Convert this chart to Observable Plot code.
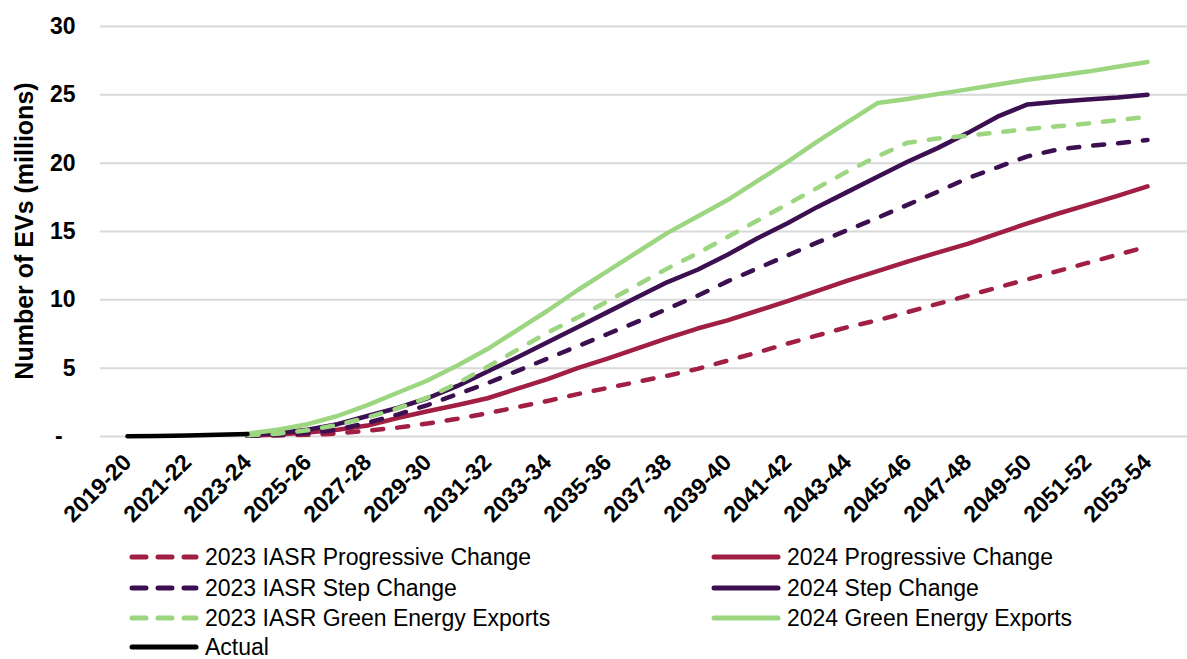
<!DOCTYPE html>
<html><head><meta charset="utf-8">
<script src="https://cdn.jsdelivr.net/npm/d3@7"></script>
<script src="https://cdn.jsdelivr.net/npm/@observablehq/plot@0.6"></script>
<style>
body{margin:0;background:#fff;font-family:"Liberation Sans",Arial,sans-serif;}
#chart{position:relative;width:1187px;height:659px;overflow:hidden;}
#ytitle{position:absolute;left:24px;top:231px;transform:translate(-50%,-50%) rotate(-90deg);font-size:25px;font-weight:bold;white-space:nowrap;color:#000;}
.item{position:absolute;display:flex;align-items:center;font-size:23px;color:#000;white-space:nowrap;height:22px;line-height:22px;}
.item svg{margin-right:5px;}
</style></head><body>
<div id="chart"><div id="ytitle">Number of EVs (millions)</div></div>
<script>
const categories = ["2019-20","2020-21","2021-22","2022-23","2023-24","2024-25","2025-26","2026-27","2027-28","2028-29","2029-30","2030-31","2031-32","2032-33","2033-34","2034-35","2035-36","2036-37","2037-38","2038-39","2039-40","2040-41","2041-42","2042-43","2043-44","2044-45","2045-46","2046-47","2047-48","2048-49","2049-50","2050-51","2051-52","2052-53","2053-54"];
const xTickLabels = ["2019-20","2021-22","2023-24","2025-26","2027-28","2029-30","2031-32","2033-34","2035-36","2037-38","2039-40","2041-42","2043-44","2045-46","2047-48","2049-50","2051-52","2053-54"];
const yTicks = [0,5,10,15,20,25,30];

// values start at 2019-20 (actual) or 2023-24 (projections)
const actual = [0.02,0.04,0.07,0.12,0.18];
const prog2023 = [0.05,0.08,0.12,0.22,0.42,0.65,0.95,1.3,1.7,2.15,2.6,3.1,3.55,4.0,4.45,4.95,5.55,6.15,6.8,7.4,8.0,8.5,9.1,9.7,10.3,10.9,11.5,12.1,12.7,13.3,13.9];
const prog2024 = [0.05,0.15,0.3,0.5,0.8,1.35,1.85,2.3,2.8,3.5,4.2,5.0,5.7,6.45,7.2,7.9,8.5,9.2,9.9,10.65,11.4,12.1,12.8,13.45,14.1,14.85,15.6,16.3,16.95,17.6,18.3];
const step2023 = [0.05,0.12,0.25,0.5,1.0,1.6,2.3,3.1,3.9,4.8,5.7,6.6,7.5,8.4,9.35,10.3,11.35,12.3,13.25,14.2,15.1,16.0,16.95,17.9,18.9,19.7,20.5,21.0,21.25,21.45,21.7];
const step2024 = [0.1,0.25,0.5,0.9,1.5,2.1,2.8,3.7,4.75,5.8,6.9,8.0,9.1,10.2,11.3,12.2,13.3,14.5,15.6,16.8,17.9,19.0,20.1,21.1,22.2,23.4,24.3,24.5,24.65,24.8,25.0];
const gee2023 = [0.1,0.2,0.45,0.85,1.4,2.05,2.85,3.9,5.1,6.35,7.6,8.7,9.9,11.1,12.3,13.4,14.6,15.8,17.0,18.2,19.4,20.5,21.5,21.8,22.0,22.25,22.5,22.7,22.9,23.15,23.4];
const gee2024 = [0.2,0.5,0.9,1.5,2.3,3.2,4.1,5.2,6.4,7.8,9.2,10.7,12.1,13.5,14.9,16.1,17.3,18.7,20.1,21.6,23.0,24.4,24.7,25.05,25.4,25.75,26.1,26.4,26.7,27.05,27.4];

const RED = "#A01F43", PURPLE = "#3C0F50", GREEN = "#9CD680", BLACK = "#000000";
const series = [
  {name:"2023 IASR Progressive Change", values:prog2023, start:4, color:RED, dash:true},
  {name:"2024 Progressive Change", values:prog2024, start:4, color:RED, dash:false},
  {name:"2023 IASR Step Change", values:step2023, start:4, color:PURPLE, dash:true},
  {name:"2024 Step Change", values:step2024, start:4, color:PURPLE, dash:false},
  {name:"2023 IASR Green Energy Exports", values:gee2023, start:4, color:GREEN, dash:true},
  {name:"2024 Green Energy Exports", values:gee2024, start:4, color:GREEN, dash:false},
  {name:"Actual", values:actual, start:0, color:BLACK, dash:false}
];
const DASH = "11,14";

const lineMarks = series.map(s => Plot.line(
  s.values.map((v,i) => ({cat: categories[s.start+i], value: v})),
  {x:"cat", y:"value", stroke:s.color, strokeWidth:4.5, strokeLinecap:"round", strokeLinejoin:"round",
   strokeDasharray: s.dash ? DASH : null}
));

const plot = Plot.plot({
  width:1187, height:540,
  marginTop:26, marginLeft:100, marginRight:0, marginBottom:104,
  style:{fontFamily:'"Liberation Sans", Arial, sans-serif', background:"#fff", color:"#000", overflow:"visible"},
  x:{type:"point", domain:categories, range:[115,1159], padding:0},
  y:{domain:[0,30]},
  marks:[
    Plot.ruleY(yTicks, {stroke:"#D9D9D9", strokeWidth:2}),
    Plot.axisY({ticks:yTicks, tickSize:0, tickPadding:25, fontSize:23, fontWeight:"bold",
      tickFormat: d => d === 0 ? "-\u2007" : String(d), label:null}),
    Plot.axisX({ticks:xTickLabels, tickSize:0, tickPadding:22, tickRotate:-45, fontSize:23, fontWeight:"bold", label:null}),
    ...lineMarks
  ]
});
plot.style.position = "absolute";
plot.style.left = "0px";
plot.style.top = "0px";
const chart = document.getElementById("chart");
chart.insertBefore(plot, chart.firstChild);

// legend (row centres 557, 588, 618, 647)
const legendPos = [
  [128, 557], [710, 557],
  [128, 588], [710, 588],
  [128, 618], [710, 618],
  [128, 647]
];
series.forEach((s, i) => {
  const [lx, cy] = legendPos[i];
  const div = document.createElement("div");
  div.className = "item";
  div.style.left = lx + "px";
  div.style.top = (cy - 11) + "px";
  const w = 72;
  const sw = `<svg width="${w}" height="12"><line x1="4" y1="6" x2="${w-4}" y2="6" stroke="${s.color}" stroke-width="5" stroke-linecap="round" ${s.dash ? 'stroke-dasharray="14,12"' : ''}/></svg>`;
  div.innerHTML = sw + `<span>${s.name}</span>`;
  chart.appendChild(div);
});
</script>
</body></html>
